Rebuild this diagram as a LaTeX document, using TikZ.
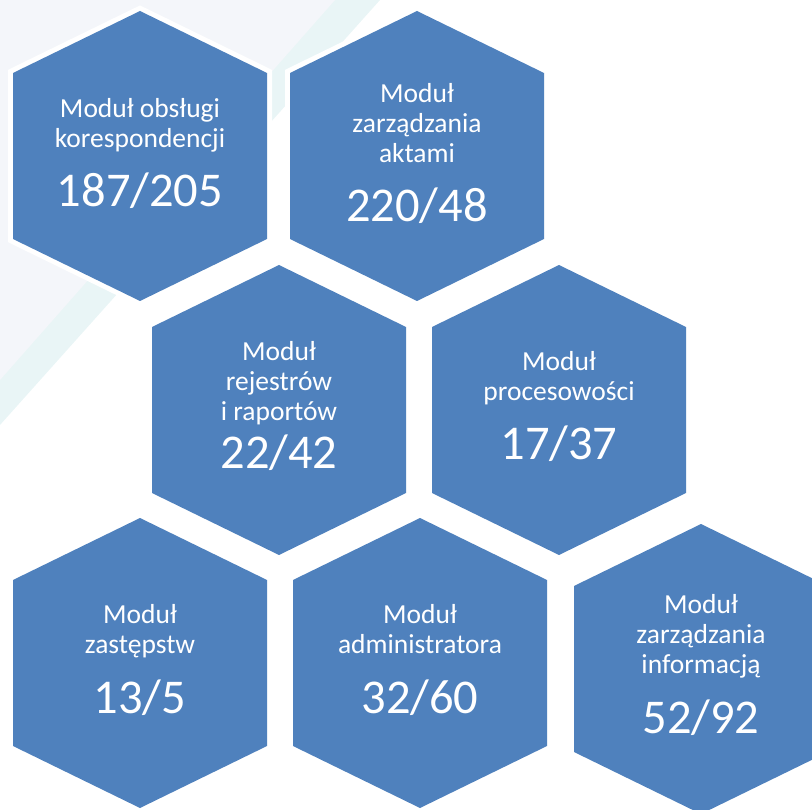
\documentclass[tikz,border=0pt]{standalone}
\usepackage{fontspec}
\setmainfont{Carlito}
\usepackage{xcolor}
\usepackage{tikz}
\usetikzlibrary{positioning}

\definecolor{hexblue}{HTML}{4F81BD}
\definecolor{bggrey}{HTML}{F4F6FA}
\definecolor{bgteal}{HTML}{E9F5F6}

\begin{document}
\begin{tikzpicture}[
        x=1pt, y=-1pt,
        halo/.style={draw=white, fill=white, line width=10pt},
        hexagon/.style={fill=hexblue},
        modname/.style={text=white, align=center, anchor=north, inner sep=0pt, font=\fontsize{27.5}{30}\selectfont},
        modcount/.style={text=white, anchor=base, inner sep=0pt, font=\fontsize{48.5}{56}\selectfont}
    ]

    \useasboundingbox (0,0) rectangle (812,810);
    \clip (0,0) rectangle (812,810);

    % Background stripes
    \fill[bgteal] (0,0) -- (380,0) -- (0,425) -- cycle;
    \fill[bggrey] (0,0) -- (335,0) -- (0,380) -- cycle;

    % Module centres
    \coordinate (korespondencja) at (140,156);
    \coordinate (akta) at (417,156);
    \coordinate (rejestry) at (279,410);
    \coordinate (procesy) at (559,410);
    \coordinate (zastepstwa) at (140,663);
    \coordinate (admin) at (420,663);
    \coordinate (informacja) at (701,669);

    % Hexagons
    \foreach \m in {korespondencja, akta, rejestry, procesy, zastepstwa, admin, informacja} {
        \filldraw[halo, shift={(\m)}] (0,-145) -- (127,-83) -- (127,83) -- (0,145) -- (-127,83) -- (-127,-83) -- cycle;
        \fill[hexagon, shift={(\m)}] (0,-145) -- (127,-83) -- (127,83) -- (0,145) -- (-127,83) -- (-127,-83) -- cycle;
    }

    % Module names
    \node[modname] (korespondencja-txt) at (140,98) {Moduł obsługi\\korespondencji};
    \node[modname] (akta-txt) at (417,83) {Moduł\\zarządzania\\aktami};
    \node[modname] (rejestry-txt) at (279,341) {Moduł\\rejestrów\\i raportów};
    \node[modname] (procesy-txt) at (559,351) {Moduł\\procesowości};
    \node[modname] (zastepstwa-txt) at (140,604) {Moduł\\zastępstw};
    \node[modname] (admin-txt) at (420,604) {Moduł\\administratora};
    \node[modname] (informacja-txt) at (701,594) {Moduł\\zarządzania\\informacją};

    % Counts
    \node[modcount] (korespondencja-num) at (140,207) {187/205};
    \node[modcount] (akta-num) at (417,222) {220/48};
    \node[modcount] (rejestry-num) at (279,468) {22/42};
    \node[modcount] (procesy-num) at (559,460) {17/37};
    \node[modcount] (zastepstwa-num) at (140,713) {13/5};
    \node[modcount] (admin-num) at (420,713) {32/60};
    \node[modcount] (informacja-num) at (701,733) {52/92};

\end{tikzpicture}
\end{document}
